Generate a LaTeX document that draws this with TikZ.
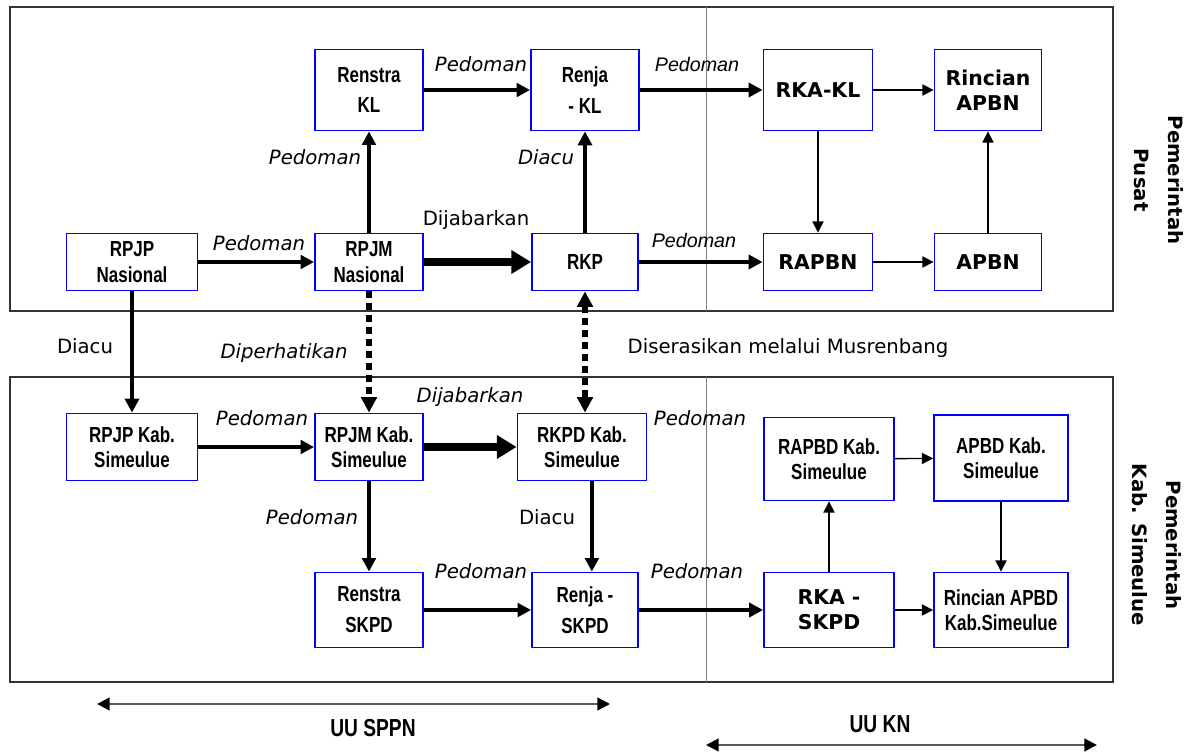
\documentclass[tikz,border=0pt]{standalone}
\usepackage{fontspec}
\setmainfont{DejaVu Sans}
\newfontfamily\narrowfont[FakeStretch=0.78]{Liberation Sans}
\newfontfamily\arialfont{Liberation Sans}
\usetikzlibrary{arrows.meta}

\tikzset{
  box/.style={draw=blue, line width=1.3pt, fill=white, align=center, inner sep=1pt,
    font=\narrowfont\bfseries\fontsize{15.5}{18}\selectfont},
  vbox/.style={box, font=\bfseries\fontsize{14.5}{18}\selectfont},
  sz/.style 2 args={minimum width=#1*0.025cm, minimum height=#2*0.025cm},
  lbl/.style={inner sep=0pt, font=\fontsize{14}{16}\selectfont},
  ilbl/.style={inner sep=0pt, font=\fontsize{14}{16}\selectfont\itshape},
  albl/.style={inner sep=0pt, font=\arialfont\fontsize{14}{16}\selectfont\itshape},
  side/.style={align=center, rotate=-90, font=\bfseries\fontsize{14}{24}\selectfont},
  law/.style={font=\narrowfont\bfseries\fontsize{17.5}{20}\selectfont},
  frame/.style={draw=black!80, line width=1.2pt},
  lightarr/.style={line width=1pt, -{Triangle[length=8pt,width=8pt]}},
  midarr/.style={line width=2.5pt, -{Triangle[length=9.5pt,width=9.5pt]}},
  heavyarr/.style={line width=3.2pt, -{Triangle[length=10pt,width=10pt]}},
  hugearr/.style={line width=5.5pt, -{Triangle[length=14pt,width=16pt]}},
  dotarr/.style={line width=4.3pt, dash pattern=on 5pt off 3.5pt, -{Triangle[length=11pt,width=11pt]}},
  lawarr/.style={draw=black!65, line width=1.6pt,
    {Triangle[length=9pt,width=9pt,color=black]}-{Triangle[length=9pt,width=9pt,color=black]}}
}

\begin{document}
\begin{tikzpicture}[x=0.025cm,y=-0.025cm]
  \useasboundingbox (0,0) rectangle (1192,753);

  % frames
  \draw[frame] (10,7) rectangle (1113,311);
  \draw[frame] (10,377) rectangle (1113,682);
  \draw[gray, line width=0.7pt] (706,7) -- (706,311);
  \draw[gray, line width=0.7pt] (706,377) -- (706,682);

  \node[side] (pusat) at (1159,180) {Pemerintah\\Pusat};
  \node[side] (daerah) at (1157,545) {Pemerintah\\Kab. Simeulue};

  % pusat
  \node[box, sz={108}{81}] (renstrakl) at (369,90) {Renstra\\[4pt]KL};
  \node[box, sz={108}{81}] (renjakl) at (585,90) {Renja\\[4pt]- KL};
  \node[vbox, sz={109}{81}] (rkakl) at (818,90) {RKA-KL};
  \node[vbox, sz={107}{81}] (rincianapbn) at (988,90) {Rincian\\APBN};
  \node[box, sz={131}{57}] (rpjpnas) at (132,262) {RPJP\\Nasional};
  \node[box, sz={108}{57}] (rpjmnas) at (369,262) {RPJM\\Nasional};
  \node[box, sz={106}{57}] (rkp) at (585,262) {RKP};
  \node[vbox, sz={109}{57}] (rapbn) at (818,262) {RAPBN};
  \node[vbox, sz={107}{57}] (apbn) at (988,262) {APBN};

  % kabupaten
  \node[box, sz={131}{67}] (rpjpkab) at (132,447) {RPJP Kab.\\Simeulue};
  \node[box, sz={108}{67}] (rpjmkab) at (369,447) {RPJM Kab.\\Simeulue};
  \node[box, sz={129}{67}] (rkpdkab) at (582,447) {RKPD Kab.\\Simeulue};
  \node[box, sz={130}{83}] (rapbd) at (829,459) {RAPBD Kab.\\Simeulue};
  \node[box, sz={134}{86}] (apbd) at (1001,458) {APBD Kab.\\Simeulue};
  \node[box, sz={108}{75}] (renstraskpd) at (369,610) {Renstra\\[4pt]SKPD};
  \node[box, sz={106}{75}] (renjaskpd) at (585,610) {Renja -\\[4pt]SKPD};
  \node[vbox, sz={130}{75}] (rkaskpd) at (829,610) {RKA -\\SKPD};
  \node[box, sz={134}{75}] (rincianapbd) at (1001,610) {Rincian APBD\\Kab.Simeulue};

  % arrows, pusat
  \draw[midarr] (renstrakl) -- (renjakl);
  \draw[heavyarr] (renjakl) -- (rkakl);
  \draw[lightarr] (rkakl) -- (rincianapbn);
  \draw[lightarr] (rkakl) -- (rapbn);
  \draw[lightarr] (rapbn) -- (apbn);
  \draw[lightarr] (apbn) -- (rincianapbn);
  \draw[heavyarr] (rkp) -- (rapbn);
  \draw[midarr] (rpjpnas) -- (rpjmnas);
  \draw[hugearr] (rpjmnas) -- (rkp);
  \draw[midarr] (rpjmnas) -- (renstrakl);
  \draw[heavyarr] (rkp) -- (renjakl);

  % arrows between levels
  \draw[heavyarr] (rpjpnas) -- (rpjpkab);
  \draw[dotarr] (rpjmnas) -- (rpjmkab);
  \draw[dotarr, {Triangle[length=11pt,width=11pt]}-{Triangle[length=11pt,width=11pt]}]
    (rkp.south) -- (rkp.south |- rkpdkab.north);

  % arrows, kabupaten
  \draw[midarr] (rpjpkab) -- (rpjmkab);
  \draw[hugearr] (rpjmkab) -- (rkpdkab);
  \draw[midarr] (rpjmkab) -- (renstraskpd);
  \draw[midarr] ([xshift=7pt]rkpdkab.south) -- ([xshift=7pt]rkpdkab.south |- renjaskpd.north);
  \draw[midarr] (renstraskpd) -- (renjaskpd);
  \draw[heavyarr] (renjaskpd) -- (rkaskpd);
  \draw[lightarr] (rkaskpd) -- (rapbd);
  \draw[lightarr] (rapbd) -- (apbd);
  \draw[lightarr] (apbd) -- (rincianapbd);
  \draw[lightarr] (rkaskpd) -- (rincianapbd);

  % labels
  \node[ilbl] (p1) at (481,64) {Pedoman};
  \node[albl] (p2) at (697,64) {Pedoman};
  \node[albl] (p3) at (694,240) {Pedoman};
  \node[ilbl] (p4) at (259,243) {Pedoman};
  \node[lbl] (d1) at (476,220) {Dijabarkan};
  \node[ilbl] (p5) at (315,157) {Pedoman};
  \node[ilbl] (a1) at (546,157) {Diacu};
  \node[lbl] (a2) at (85,346) {Diacu};
  \node[ilbl] (dp) at (284,353) {Diperhatikan};
  \node[lbl] (ds) at (788,348) {Diserasikan melalui Musrenbang};
  \node[ilbl] (d2) at (470,397) {Dijabarkan};
  \node[ilbl] (p6) at (262,418) {Pedoman};
  \node[ilbl] (p7) at (700,418) {Pedoman};
  \node[ilbl] (p8) at (312,517) {Pedoman};
  \node[lbl] (a3) at (547,517) {Diacu};
  \node[ilbl] (p9) at (481,571) {Pedoman};
  \node[ilbl] (p10) at (697,571) {Pedoman};

  % undang-undang
  \coordinate (sppnl) at (97,704);
  \coordinate (sppnr) at (610,704);
  \draw[lawarr] (sppnl) -- (sppnr);
  \node[law] (sppn) at (373,728) {UU SPPN};
  \coordinate (knl) at (706,745);
  \coordinate (knr) at (1097,745);
  \draw[lawarr] (knl) -- (knr);
  \node[law] (kn) at (880,724) {UU KN};
\end{tikzpicture}
\end{document}
